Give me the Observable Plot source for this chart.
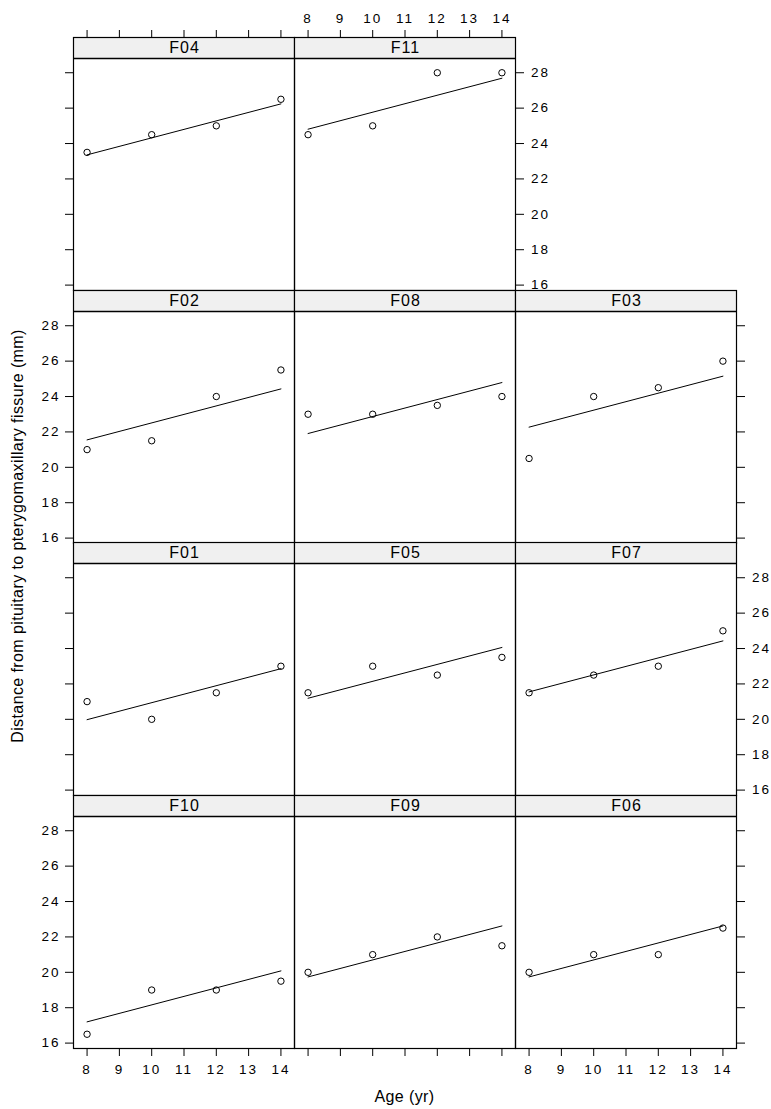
<!DOCTYPE html>
<html><head><meta charset="utf-8">
<script src="https://cdn.jsdelivr.net/npm/d3@7"></script>
<script src="https://cdn.jsdelivr.net/npm/@observablehq/plot@0.6"></script>
<style>
body{margin:0;background:#fff;}
#chart{position:relative;width:771px;height:1109px;overflow:hidden;font-family:"Liberation Sans",Arial,Helvetica,sans-serif;color:#000;background:#fff;}
#chart svg{position:absolute;}
#chart g[aria-label$="tick label"] text{letter-spacing:2px;}
#chart g[aria-label="text"] text{letter-spacing:1px;}
.xlab{position:absolute;left:72px;width:665px;top:1089px;text-align:center;font-size:16px;line-height:16px;letter-spacing:0.4px;}
.ylab{position:absolute;left:18px;top:536px;font-size:16px;line-height:16px;white-space:nowrap;letter-spacing:0.4px;transform:translate(-50%,-50%) rotate(-90deg);}
</style></head><body>
<div id="chart">
<div class="xlab">Age (yr)</div>
<div class="ylab">Distance from pituitary to pterygomaxillary fissure (mm)</div>
</div>
<script>
// ---- data ----
const ages = [8, 10, 12, 14];
const subjects = ["F04", "F11", "F02", "F08", "F03", "F01", "F05", "F07", "F10", "F09", "F06"];
const distances = [
  [23.5, 24.5, 25, 26.5],  // F04
  [24.5, 25, 28, 28],      // F11
  [21, 21.5, 24, 25.5],    // F02
  [23, 23, 23.5, 24],      // F08
  [20.5, 24, 24.5, 26],    // F03
  [21, 20, 21.5, 23],      // F01
  [21.5, 23, 22.5, 23.5],  // F05
  [21.5, 22.5, 23, 25],    // F07
  [16.5, 19, 19, 19.5],    // F10
  [20, 21, 22, 21.5],      // F09
  [20, 21, 21, 22.5]       // F06
];
const fitAges = [8, 14];
const fitStart = [23.36, 24.81, 21.55, 21.91, 22.27, 19.98, 21.19, 21.55, 17.20, 19.74, 19.74];
const fitEnd   = [26.24, 27.69, 24.43, 24.79, 25.15, 22.86, 24.06, 24.43, 20.08, 22.62, 22.62];
const panelCol = [0, 1, 0, 1, 2, 0, 1, 2, 0, 1, 2];
const panelRow = [0, 0, 1, 1, 1, 2, 2, 2, 3, 3, 3];
const xTicks = [8, 9, 10, 11, 12, 13, 14];
const yTicks = [16, 18, 20, 22, 24, 26, 28];
const xDomain = [7.58, 14.42];
const yDomain = [15.695, 28.805];

// ---- layout ----
const colX = [73, 294, 515];
const rowTop = [37, 290, 542, 795];
const innerW = 221, stripH = 21, panelH = 232, innerH = stripH + panelH;
const mL = 70, mR = 60, mT = 40, mB = 50;
const stripUnits = stripH * (yDomain[1] - yDomain[0]) / panelH;
const yTop = yDomain[1] + stripUnits;
const font = "'Liberation Sans', Arial, Helvetica, sans-serif";
const tickFont = 13.5;

const chart = document.getElementById("chart");
const lab = d => String(d), none = () => "";

subjects.forEach((name, i) => {
  const col = panelCol[i], row = panelRow[i];
  const pts = ages.map((a, j) => ({age: a, distance: distances[i][j]}));
  const fit = [{age: fitAges[0], distance: fitStart[i]}, {age: fitAges[1], distance: fitEnd[i]}];

  let left = null, right = null, top = null, bottom = null;
  if (col === 0) left = row % 2 === 1 ? "label" : "tick";
  if (row === 0 && col === 1) right = "label";
  if (col === 2) right = row === 2 ? "label" : "tick";
  if (row === 0) top = col === 1 ? "label" : "tick";
  if (row === 3) bottom = col === 1 ? "tick" : "label";

  const marks = [
    Plot.rect([{x1: xDomain[0], x2: xDomain[1], y1: yDomain[1], y2: yTop}],
      {x1: "x1", x2: "x2", y1: "y1", y2: "y2", fill: "#f0f0f0"}),
    Plot.ruleY([yDomain[1]], {stroke: "black", strokeWidth: 1.3}),
    Plot.frame({stroke: "black", strokeWidth: 1.2}),
    Plot.text([{x: (xDomain[0] + xDomain[1]) / 2, y: yDomain[1] + stripUnits / 2, t: name}],
      {x: "x", y: "y", text: "t", fontSize: 16, fill: "black", dx: 0.5}),
    Plot.line(fit, {x: "age", y: "distance", stroke: "black", strokeWidth: 1}),
    Plot.dot(pts, {x: "age", y: "distance", r: 3.2, stroke: "black", fill: "none", strokeWidth: 1})
  ];
  const common = {tickSize: 8, fontSize: tickFont, label: null};
  if (left) marks.push(Plot.axisY(yTicks, {...common, anchor: "left", tickPadding: 5, tickFormat: left === "label" ? lab : none}));
  if (right) marks.push(Plot.axisY(yTicks, {...common, anchor: "right", tickPadding: 7.5, tickFormat: right === "label" ? lab : none}));
  if (top) marks.push(Plot.axisX(xTicks, {...common, anchor: "top", tickPadding: 7, tickFormat: top === "label" ? lab : none}));
  if (bottom) marks.push(Plot.axisX(xTicks, {...common, anchor: "bottom", tickPadding: 8, tickFormat: bottom === "label" ? lab : none}));

  const svg = Plot.plot({
    width: innerW + mL + mR,
    height: innerH + mT + mB,
    marginLeft: mL, marginRight: mR, marginTop: mT, marginBottom: mB,
    x: {domain: xDomain, axis: null, label: null},
    y: {domain: [yDomain[0], yTop], axis: null, label: null},
    marks
  });
  svg.style.position = "absolute";
  svg.style.left = (colX[col] - mL) + "px";
  svg.style.top = (rowTop[row] - mT) + "px";
  svg.style.fontFamily = font;
  svg.style.fontSize = tickFont + "px";
  svg.style.background = "transparent";
  svg.style.overflow = "visible";
  chart.appendChild(svg);
});
</script>
</body></html>
